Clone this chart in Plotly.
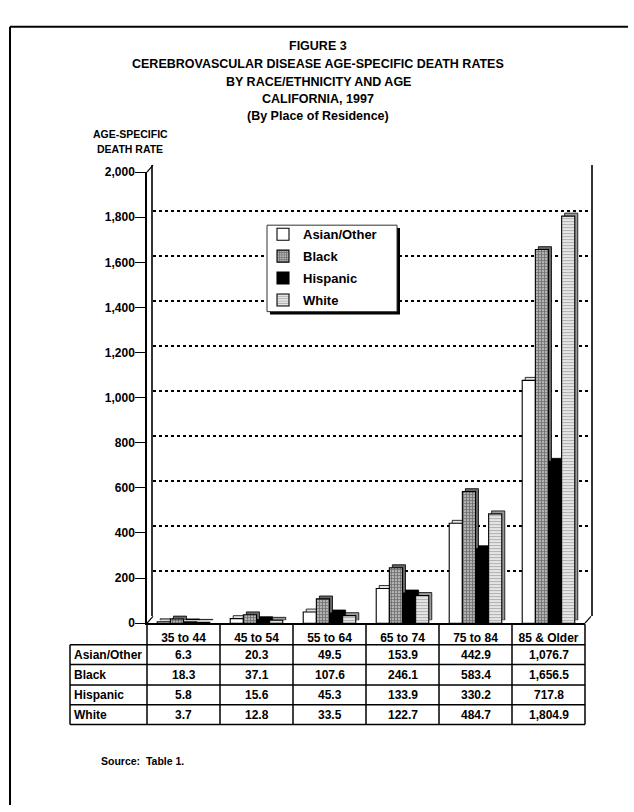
import plotly.graph_objects as go

# ---------------- data ----------------
categories = ["35 to 44", "45 to 54", "55 to 64", "65 to 74", "75 to 84", "85 & Older"]
series_names = ["Asian/Other", "Black", "Hispanic", "White"]
asian_other = [6.3, 20.3, 49.5, 153.9, 442.9, 1076.7]
black = [18.3, 37.1, 107.6, 246.1, 583.4, 1656.5]
hispanic = [5.8, 15.6, 45.3, 133.9, 330.2, 717.8]
white = [3.7, 12.8, 33.5, 122.7, 484.7, 1804.9]
y_ticks = [0, 200, 400, 600, 800, 1000, 1200, 1400, 1600, 1800, 2000]
title_lines = ["FIGURE 3", "CEREBROVASCULAR DISEASE AGE-SPECIFIC DEATH RATES",
               "BY RACE/ETHNICITY AND AGE", "CALIFORNIA, 1997", "(By Place of Residence)"]
y_title_lines = ["AGE-SPECIFIC", "DEATH RATE"]
source_text = "Source:  Table 1."

series_values = [asian_other, black, hispanic, white]

# ---------------- layout helpers (page pixel coords -> paper) ----------------
W, H = 634, 812
def px(x):
    return x / W
def py(y):
    return 1 - y / H

FONT = "Arial, 'Liberation Sans', Helvetica, sans-serif"
FX0, FX1 = 147, 585       # front plot left/right
FY0, FY1 = 627, 168       # front plot y of 0 and of 2000
WALL_DX, WALL_DY = 6, -7  # depth of back wall
BAR_DX, BAR_DY = 3, -3    # depth of bars

styles = {
    "Asian/Other": dict(color="white", pattern=None, side="#e4e4e4"),
    "Black": dict(color="#9a9a9a",
                  pattern=dict(shape="+", fgcolor="#222222", bgcolor="#b4b4b4", size=3, solidity=0.45),
                  side="#666666"),
    "Hispanic": dict(color="black", pattern=None, side="#000000"),
    "White": dict(color="#dddddd",
                  pattern=dict(shape="-", fgcolor="#707070", bgcolor="#f0f0f0", size=3, solidity=0.45),
                  side="#9a9a9a"),
}

fig = go.Figure()

# invisible trace so the back-wall axes exist
fig.add_trace(go.Scatter(x=categories, y=[None] * len(categories), showlegend=False,
                         hoverinfo="skip", xaxis="x", yaxis="y", mode="markers"))

# depth (extrusion) bars on a slightly shifted axis pair
for name, vals in zip(series_names, series_values):
    fig.add_trace(go.Bar(
        x=categories, y=vals, name=name, showlegend=False, hoverinfo="skip",
        marker=dict(color=styles[name]["side"], line=dict(color="black", width=0.8)),
        xaxis="x2", yaxis="y2",
    ))

# front bars
for name, vals in zip(series_names, series_values):
    st = styles[name]
    marker = dict(color=st["color"], line=dict(color="black", width=1.1))
    if st["pattern"] is not None:
        marker["pattern"] = st["pattern"]
    fig.add_trace(go.Bar(
        x=categories, y=vals, name="<b>%s</b>" % name, legendgroup=name, marker=marker,
        xaxis="x3", yaxis="y3",
    ))

# ---------------- axes ----------------
rng_x = [-0.5, len(categories) - 0.5]
rng_y = [0, 2000]

hidden = dict(showticklabels=False, ticks="", showgrid=False, zeroline=False, showline=False)

fig.update_layout(
    width=W, height=H,
    margin=dict(l=0, r=0, t=0, b=0),
    paper_bgcolor="white", plot_bgcolor="rgba(0,0,0,0)",
    barmode="group", bargap=0.28, bargroupgap=0,
    font=dict(family=FONT, color="black", size=12),
    showlegend=True,
    legend=dict(
        x=px(263), y=py(216), xanchor="left", yanchor="top",
        bgcolor="rgba(0,0,0,0)", borderwidth=0,
        font=dict(family=FONT, size=13, color="black"),
        itemwidth=30, tracegroupgap=2,
    ),
    xaxis=dict(domain=[px(FX0 + WALL_DX), px(FX1 + WALL_DX)], range=rng_x, anchor="y", **hidden),
    yaxis=dict(domain=[py(FY0 + WALL_DY), py(FY1 + WALL_DY)], range=[-1.5, 2001.5], anchor="x",
               showticklabels=False, ticks="", zeroline=False,
               showgrid=True, gridcolor="black", gridwidth=2, griddash="dot",
               tickvals=y_ticks,
               showline=True, linecolor="#333333", linewidth=1.5, mirror=True),
    xaxis2=dict(domain=[px(FX0 + BAR_DX), px(FX1 + BAR_DX)], range=rng_x, anchor="y2", **hidden),
    yaxis2=dict(domain=[py(FY0 + BAR_DY), py(FY1 + BAR_DY)], range=rng_y, anchor="x2", **hidden),
    xaxis3=dict(domain=[px(FX0), px(FX1)], range=rng_x, anchor="y3",
                showline=True, linecolor="black", linewidth=1.5,
                ticks="", showgrid=False, zeroline=False,
                tickvals=categories, ticktext=["<b>%s</b>" % c for c in categories],
                tickfont=dict(family=FONT, size=12, color="black"),
                ticklabelstandoff=3),
    yaxis3=dict(domain=[py(FY0), py(FY1)], range=rng_y, anchor="x3",
                tickvals=y_ticks, ticktext=["<b>{:,}</b>".format(v) for v in y_ticks],
                ticks="outside", ticklen=10, tickcolor="black", tickwidth=1.2,
                showline=True, linecolor="black", linewidth=1.5,
                showgrid=False, zeroline=False, ticklabelstandoff=-2,
                tickfont=dict(family=FONT, size=12, color="black")),
)

shapes = []
# outer frame (only left and top edges fall inside the page)
shapes.append(dict(type="line", xref="paper", yref="paper", x0=px(10), x1=px(10), y0=py(20), y1=py(812),
                   line=dict(color="black", width=2)))
shapes.append(dict(type="line", xref="paper", yref="paper", x0=px(10), x1=px(628), y0=py(20), y1=py(20),
                   line=dict(color="black", width=2)))
# 3D wall diagonals
for (xa, ya) in [(FX0, FY1), (FX0, FY0), (FX1, FY0)]:
    shapes.append(dict(type="line", xref="paper", yref="paper",
                       x0=px(xa), y0=py(ya), x1=px(xa + WALL_DX), y1=py(ya + WALL_DY),
                       line=dict(color="black", width=1.2)))

# table grid
T_LEFT = 70
row_lines = [628, 649, 669, 690, 710, 730]
col_w = (FX1 - FX0) / len(categories)
for i, yy in enumerate(row_lines):
    shapes.append(dict(type="line", xref="paper", yref="paper",
                       x0=px(FX0 if i == 0 else T_LEFT), x1=px(FX1),
                       y0=py(yy), y1=py(yy), line=dict(color="black", width=1.5)))
for j in range(len(categories) + 1):
    xx = FX0 + j * col_w
    shapes.append(dict(type="line", xref="paper", yref="paper",
                       x0=px(xx), x1=px(xx), y0=py(row_lines[0]), y1=py(row_lines[-1]),
                       line=dict(color="black", width=1.5)))
shapes.append(dict(type="line", xref="paper", yref="paper",
                   x0=px(T_LEFT), x1=px(T_LEFT), y0=py(row_lines[1]), y1=py(row_lines[-1]),
                   line=dict(color="black", width=1.5)))
# legend box with drop shadow
LB = (267, 222, 397, 310)
shapes.append(dict(type="rect", xref="paper", yref="paper",
                   x0=px(LB[0] + 3), x1=px(LB[2] + 3), y0=py(LB[1] + 3), y1=py(LB[3] + 3),
                   fillcolor="black", line=dict(width=0), layer="above"))
shapes.append(dict(type="rect", xref="paper", yref="paper",
                   x0=px(LB[0]), x1=px(LB[2]), y0=py(LB[1]), y1=py(LB[3]),
                   fillcolor="white", line=dict(color="#333333", width=1), layer="above"))
fig.update_layout(shapes=shapes)

ann = []
title_y = [40, 58, 76, 93.5, 111]
for t, yy in zip(title_lines, title_y):
    ann.append(dict(xref="paper", yref="paper", x=px(318), y=py(yy), xanchor="center", yanchor="middle",
                    showarrow=False, text="<b>%s</b>" % t,
                    font=dict(family=FONT, size=12.5, color="black")))
for t, yy in zip(y_title_lines, [129, 144]):
    ann.append(dict(xref="paper", yref="paper", x=px(130), y=py(yy), xanchor="center", yanchor="middle",
                    showarrow=False, text="<b>%s</b>" % t,
                    font=dict(family=FONT, size=10.5, color="black")))
for r, (name, vals) in enumerate(zip(series_names, series_values)):
    yc = (row_lines[r + 1] + row_lines[r + 2]) / 2
    ann.append(dict(xref="paper", yref="paper", x=px(T_LEFT + 2), y=py(yc), xanchor="left",
                    yanchor="middle", showarrow=False, text="<b>%s</b>" % name,
                    font=dict(family=FONT, size=12, color="black")))
    for c, v in zip(categories, vals):
        ann.append(dict(xref="x3", yref="paper", x=c, y=py(yc), xanchor="center",
                        yanchor="middle", showarrow=False, text="<b>{:,.1f}</b>".format(v),
                        font=dict(family=FONT, size=12, color="black")))
ann.append(dict(xref="paper", yref="paper", x=px(99), y=py(767), xanchor="left", yanchor="middle",
                showarrow=False, text="<b>%s</b>" % source_text,
                font=dict(family=FONT, size=10.5, color="black")))
fig.update_layout(annotations=ann)

# remove the default page margin so the figure fills the window exactly
fig.write_html("out.html", config={"displayModeBar": False},
               post_script="document.body.style.margin='0';document.body.style.overflow='hidden';")
